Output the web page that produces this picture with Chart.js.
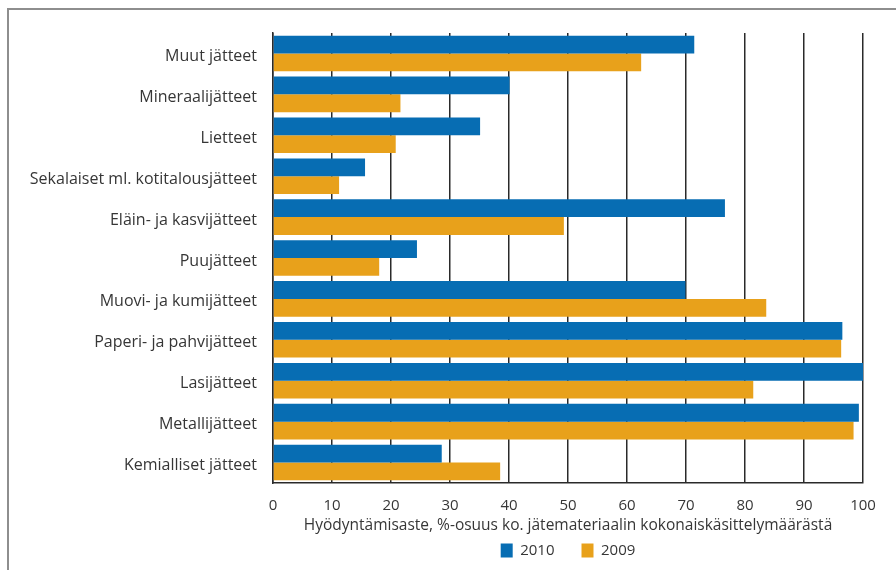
<!DOCTYPE html>
<html>
<head>
<meta charset="utf-8">
<script src="https://cdn.jsdelivr.net/npm/chart.js@4.4.1/dist/chart.umd.min.js"></script>
<style>
  body { margin: 0; background: #fff; }
  #wrap { position: relative; width: 896px; height: 570px; overflow: hidden; }
  #frame {
    position: absolute; left: 7px; top: 8px; width: 1000px; height: 1000px;
    border-left: 2px solid #8e8e8e; border-top: 2px solid #8e8e8e;
  }
  #chart { position: absolute; left: 0; top: 0; }
</style>
</head>
<body>
<div id="wrap">
  <div id="frame"></div>
  <canvas id="chart" width="896" height="570"></canvas>
</div>
<script>
  const categories = [
    "Muut jätteet",
    "Mineraalijätteet",
    "Lietteet",
    "Sekalaiset ml. kotitalousjätteet",
    "Eläin- ja kasvijätteet",
    "Puujätteet",
    "Muovi- ja kumijätteet",
    "Paperi- ja pahvijätteet",
    "Lasijätteet",
    "Metallijätteet",
    "Kemialliset jätteet"
  ];
  const values2010 = [71.4, 40.1, 35.1, 15.6, 76.6, 24.4, 69.9, 96.5, 100, 99.3, 28.6];
  const values2009 = [62.4, 21.6, 20.8, 11.2, 49.3, 18.0, 83.6, 96.3, 81.4, 98.4, 38.5];
  const xTicks = [0, 10, 20, 30, 40, 50, 60, 70, 80, 90, 100];
  const axisTitle = "Hyödyntämisaste, %-osuus ko. jätemateriaalin kokonaiskäsittelymäärästä";

  const FONT = "'Open Sans', sans-serif";
  const textColor = "#363636";
  const lineColor = "#2a2a2a";

  function drawChart() {
    const ctx = document.getElementById("chart").getContext("2d");
    new Chart(ctx, {
      type: "bar",
      data: {
        labels: categories,
        datasets: [
          { label: "2010", data: values2010, backgroundColor: "#076db3" },
          { label: "2009", data: values2009, backgroundColor: "#e8a11b" }
        ]
      },
      options: {
        indexAxis: "y",
        responsive: false,
        animation: false,
        categoryPercentage: 0.87,
        barPercentage: 1,
        layout: { padding: { top: 33, right: 33, left: 0, bottom: 2 } },
        plugins: {
          tooltip: { enabled: false },
          legend: {
            position: "bottom",
            fullSize: false,
            labels: {
              boxWidth: 12,
              boxHeight: 14,
              padding: 27,
              color: textColor,
              font: { family: FONT, size: 15 }
            }
          }
        },
        scales: {
          x: {
            min: 0,
            max: 100,
            afterBuildTicks: function(scale) {
              scale.ticks = xTicks.map(v => ({ value: v }));
            },
            afterFit: function(scale) {
              scale.height = 33;
            },
            grid: { color: lineColor, lineWidth: 1.5, drawTicks: false },
            border: { display: true, color: lineColor, width: 1.5 },
            ticks: {
              padding: 14,
              color: textColor,
              font: { family: FONT, size: 15 }
            },
            title: {
              display: true,
              text: axisTitle,
              color: textColor,
              font: { family: FONT, size: 15.5 },
              // title sits below the axis box, next to the legend
              padding: { top: 0, bottom: -19 }
            }
          },
          y: {
            afterFit: function(scale) {
              scale.width = 273;
            },
            grid: { display: false, drawTicks: false },
            border: { display: true, color: lineColor, width: 1.5 },
            ticks: {
              padding: 16,
              labelOffset: 3,
              color: textColor,
              font: { family: FONT, size: 16 }
            }
          }
        }
      }
    });
  }

  window.addEventListener("DOMContentLoaded", drawChart);
</script>
</body>
</html>
